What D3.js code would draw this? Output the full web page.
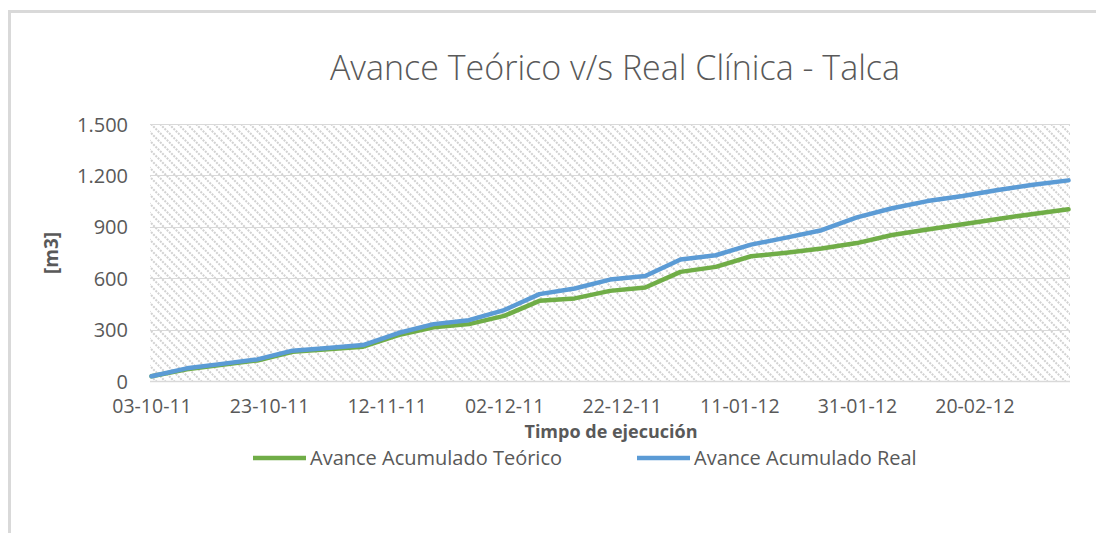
<!DOCTYPE html>
<html>
<head>
<meta charset="utf-8">
<script src="https://cdn.jsdelivr.net/npm/d3@7"></script>
<style>
  body { margin: 0; background: #fff; }
  svg text { font-family: "Open Sans", "Noto Sans", sans-serif; fill: #595959; }
</style>
</head>
<body>
<div id="chart"></div>
<script>
// Data (one point every 6 days)
const startDate = '2011-10-03';
const stepDays = 6;
const teorico = [28, 68, 95, 120, 170, 185, 200, 268, 313, 332, 380, 468, 482, 526, 546,
                 637, 666, 728, 749, 773, 805, 852, 884, 915, 946, 975, 1002];
const real = [28, 74, 100, 126, 177, 193, 210, 280, 332, 355, 414, 507, 540, 592, 613,
              709, 734, 796, 837, 880, 955, 1008, 1050, 1080, 1115, 1146, 1171];
const yTicks = [0, 300, 600, 900, 1200, 1500];
const seriesNames = ['Avance Acumulado Teórico', 'Avance Acumulado Real'];
const seriesColors = ['#70AD47', '#5B9BD5'];

const width = 1096, height = 533;
const margin = { left: 150, right: 26, top: 124, bottom: 152 };

const parse = d3.timeParse('%Y-%m-%d');
const t0 = parse(startDate);
const dates = teorico.map((d, i) => d3.timeDay.offset(t0, i * stepDays));

const svg = d3.select('#chart')
    .append('svg')
    .attr('width', width)
    .attr('height', height);

// Outer chart border (runs off the picture right and bottom)
svg.append('rect')
    .attr('x', 9.5).attr('y', 11.5)
    .attr('width', 1200).attr('height', 700)
    .attr('fill', 'none')
    .attr('stroke', '#d9d9d9')
    .attr('stroke-width', 3);

// Hatch pattern for the plot area
const defs = svg.append('defs');
const pat = defs.append('pattern')
    .attr('id', 'hatch')
    .attr('patternUnits', 'userSpaceOnUse')
    .attr('width', 9).attr('height', 9);
pat.append('path')
    .attr('d', 'M-2,-2 L11,11 M-2,7 L2,11 M7,-2 L11,2')
    .attr('stroke', '#d2d2d2')
    .attr('stroke-width', 2)
    .attr('stroke-dasharray', '2 1.2');

const x = d3.scaleTime()
    .domain([dates[0], dates[dates.length - 1]])
    .range([margin.left + 1.5, width - margin.right - 1.5]);

const y = d3.scaleLinear()
    .domain([0, 1500])
    .range([height - margin.bottom, margin.top]);

// Plot background
svg.append('rect')
    .attr('x', margin.left)
    .attr('y', margin.top)
    .attr('width', width - margin.left - margin.right)
    .attr('height', height - margin.top - margin.bottom)
    .attr('fill', 'url(#hatch)');

// Gridlines
svg.append('g')
    .selectAll('line')
    .data(yTicks)
    .enter()
    .append('line')
    .attr('x1', margin.left)
    .attr('x2', width - margin.right)
    .attr('y1', d => Math.round(y(d)) + 0.5)
    .attr('y2', d => Math.round(y(d)) + 0.5)
    .attr('stroke', '#d9d9d9')
    .attr('stroke-width', d => d === 0 ? 1.5 : 1.2);

// Y axis labels
const yAxis = svg.append('g')
    .attr('transform', `translate(${margin.left - 22},0)`)
    .call(d3.axisLeft(y).tickValues(yTicks).tickSize(0)
        .tickFormat(d => d3.format(',')(d).replace(',', '.')));
yAxis.select('.domain').remove();
yAxis.selectAll('text').attr('font-size', 20).attr('dy', '0.35em').attr('x', 0);

// X axis labels, every 20 days
const xTickDates = d3.timeDay.every(1).range(dates[0], d3.timeDay.offset(dates[dates.length - 1], 1))
    .filter((d, i) => i % 20 === 0);
const xAxis = svg.append('g')
    .attr('transform', `translate(0,${height - margin.bottom + 22})`)
    .call(d3.axisBottom(x).tickValues(xTickDates).tickSize(0)
        .tickFormat(d3.timeFormat('%d-%m-%y')));
xAxis.select('.domain').remove();
xAxis.selectAll('text').attr('font-size', 19.5).attr('dy', '0.35em');

// Lines
const line = d3.line()
    .x((d, i) => x(dates[i]))
    .y(d => y(d));

[teorico, real].forEach((s, k) => {
    svg.append('path')
        .datum(s)
        .attr('fill', 'none')
        .attr('stroke', seriesColors[k])
        .attr('stroke-width', 4.5)
        .attr('stroke-linejoin', 'round')
        .attr('stroke-linecap', 'round')
        .attr('d', line);
});

// Title
svg.append('text')
    .attr('x', 615).attr('y', 80)
    .attr('text-anchor', 'middle')
    .attr('font-size', 34)
    .attr('font-weight', 300)
    .text('Avance Teórico v/s Real Clínica - Talca');

// Axis titles
svg.append('text')
    .attr('transform', 'translate(58,253) rotate(-90)')
    .attr('text-anchor', 'middle')
    .attr('font-size', 19)
    .attr('font-weight', 'bold')
    .text('[m3]');

svg.append('text')
    .attr('x', 611).attr('y', 438)
    .attr('text-anchor', 'middle')
    .attr('font-size', 18)
    .attr('font-weight', 'bold')
    .text('Timpo de ejecución');

// Legend
const legendX = [253, 637];
seriesNames.forEach((name, k) => {
    const g = svg.append('g').attr('transform', `translate(${legendX[k]},458)`);
    g.append('line')
        .attr('x1', 0).attr('x2', 53)
        .attr('stroke', seriesColors[k])
        .attr('stroke-width', 4.5);
    g.append('text')
        .attr('x', 57).attr('dy', '0.35em')
        .attr('font-size', 20)
        .text(name);
});
</script>
</body>
</html>
